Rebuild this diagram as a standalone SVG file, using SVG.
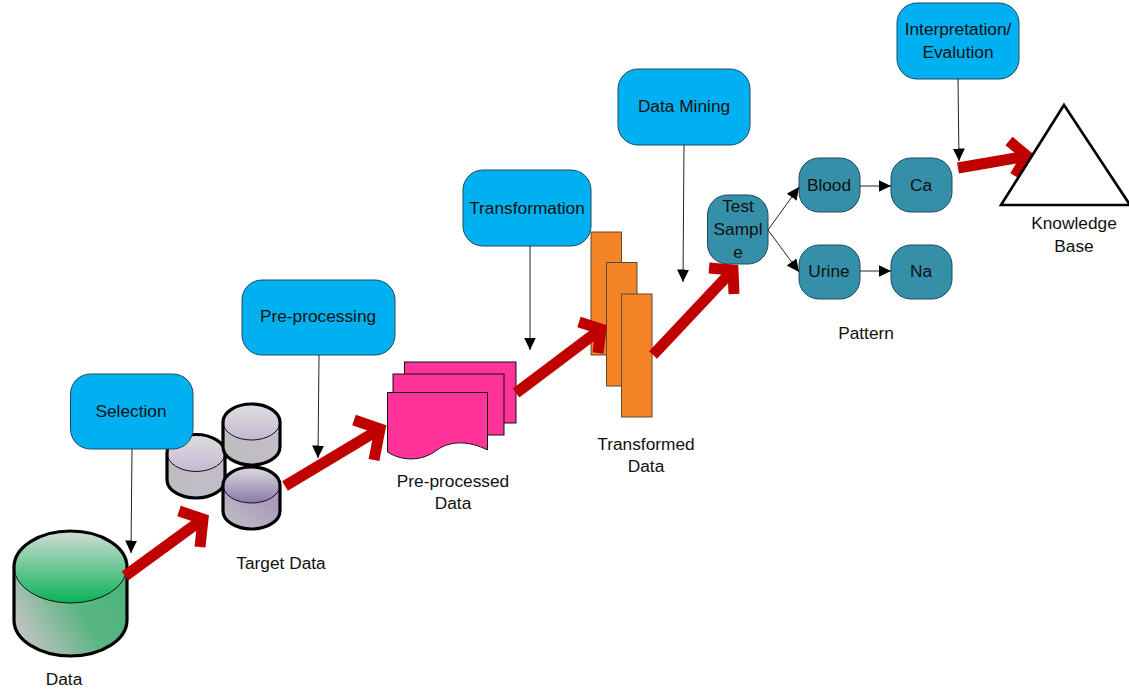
<svg xmlns="http://www.w3.org/2000/svg" width="1129" height="690" viewBox="0 0 1129 690">
<style>
text{font-family:"Liberation Sans",Arial,sans-serif;font-size:17.3px;fill:#111;text-anchor:middle}
.blue{fill:#00B0F0;stroke:#1d4a63;stroke-width:1}
.teal{fill:#368FA9;stroke:#1d4a5c;stroke-width:1}
.outline{fill:none;stroke:#000;stroke-width:3.2}
.rim{fill:none;stroke:#111;stroke-width:1}
.pink{fill:#FF3399;stroke:#111;stroke-width:1}
.orange{fill:#F58426;stroke:#5c4a3a;stroke-width:1}
.thin{fill:none;stroke:#222;stroke-width:1;marker-end:url(#tip)}
.fat{fill:none;stroke:#C00000;stroke-width:11;stroke-linejoin:miter;stroke-miterlimit:4}
</style>
<defs>
<marker id="tip" markerUnits="userSpaceOnUse" markerWidth="13" markerHeight="13" refX="12.5" refY="6" orient="auto"><path d="M0 0L12.5 6L0 12Z" fill="#000"/></marker>
<linearGradient id="gTop" x1="0" y1="0" x2="0" y2="1"><stop offset="0" stop-color="#d2dcd6"/><stop offset="1" stop-color="#0ab257"/></linearGradient>
<linearGradient id="gBody" gradientUnits="userSpaceOnUse" x1="25" y1="640" x2="115" y2="590"><stop offset="0" stop-color="#bfc3c0"/><stop offset=".6" stop-color="#5cb583"/><stop offset="1" stop-color="#4fb47c"/></linearGradient>
<linearGradient id="pTop" x1="0" y1="0" x2="0" y2="1"><stop offset="0" stop-color="#e0dde0"/><stop offset="1" stop-color="#c5b8d2"/></linearGradient>
<linearGradient id="pBody" x1="0" y1="0" x2="1" y2="0"><stop offset="0" stop-color="#bdbdbf"/><stop offset="1" stop-color="#c3bccb"/></linearGradient>
<linearGradient id="qTop" x1="0" y1="0" x2="0" y2="1"><stop offset="0" stop-color="#dedadf"/><stop offset="1" stop-color="#8b79aa"/></linearGradient>
<linearGradient id="qBody" x1="0" y1="1" x2="1" y2="0"><stop offset="0" stop-color="#c2c2c4"/><stop offset=".7" stop-color="#ab9bbd"/><stop offset="1" stop-color="#a797ba"/></linearGradient>
</defs>
<rect width="1129" height="690" fill="#fff"/>

<g id="data">
<path d="M14 567V620A56.500 36 0 0 0 127 620V567Z" fill="url(#gBody)"/>
<ellipse cx="70.500" cy="567" rx="56.500" ry="36" fill="url(#gTop)"/>
<ellipse cx="70.500" cy="567" rx="56.500" ry="36" class="rim"/>
<path d="M14 567A56.500 36 0 0 1 127 567V620A56.500 36 0 0 1 14 620Z" class="outline"/>
<text x="64" y="685">Data</text>
</g>
<g id="target-data">
<g id="cyl-a">
<path d="M167 453V480A29 18 0 0 0 225 480V453Z" fill="url(#pBody)"/>
<ellipse cx="196" cy="453" rx="29" ry="18.500" fill="url(#pTop)"/>
<ellipse cx="196" cy="453" rx="29" ry="18.500" class="rim"/>
<path d="M167 453A29 18.500 0 0 1 225 453V480A29 18 0 0 1 167 480Z" class="outline"/>
</g>
<g id="cyl-b">
<path d="M223 422V447A28.500 18 0 0 0 280 447V422Z" fill="url(#pBody)"/>
<ellipse cx="251.500" cy="422" rx="28.500" ry="18" fill="url(#pTop)"/>
<ellipse cx="251.500" cy="422" rx="28.500" ry="18" class="rim"/>
<path d="M223 422A28.500 18 0 0 1 280 422V447A28.500 18 0 0 1 223 447Z" class="outline"/>
</g>
<g id="cyl-c">
<path d="M223 485V511A28.500 18 0 0 0 280 511V485Z" fill="url(#qBody)"/>
<ellipse cx="251.500" cy="485" rx="28.500" ry="18" fill="url(#qTop)"/>
<ellipse cx="251.500" cy="485" rx="28.500" ry="18" class="rim"/>
<path d="M223 485A28.500 18 0 0 1 280 485V511A28.500 18 0 0 1 223 511Z" class="outline"/>
</g>
<text x="281" y="569">Target Data</text>
</g>
<g id="selection"><rect class="blue" x="70.500" y="374" width="122.500" height="75" rx="20"/><text x="131" y="417">Selection</text></g>
<g id="pre-processing"><rect class="blue" x="242" y="280" width="153" height="75" rx="20"/><text x="318" y="322">Pre-processing</text></g>
<g id="transformation"><rect class="blue" x="463" y="170" width="128" height="76" rx="20"/><text x="527" y="214">Transformation</text></g>
<g id="data-mining"><rect class="blue" x="618" y="69" width="132" height="76" rx="20"/><text x="684" y="112">Data Mining</text></g>
<g id="interpretation"><rect class="blue" x="897" y="3" width="122" height="76" rx="20"/><text x="958" y="35">Interpretation/</text><text x="958" y="58">Evalution</text></g>

<g id="pre-processed-data">
<rect class="pink" x="404.500" y="362" width="111.500" height="61"/>
<rect class="pink" x="393" y="374" width="111" height="61"/>
<path class="pink" d="M387.500 392.500H487.500V450C470 441 451 440 437 450C423 461 403 462 387.500 452Z"/>
<text x="453" y="487">Pre-processed</text><text x="453" y="509">Data</text>
</g>
<g id="transformed-data">
<rect class="orange" x="591" y="232" width="30.500" height="123"/>
<rect class="orange" x="606.500" y="262.500" width="30.500" height="123.500"/>
<rect class="orange" x="621.500" y="294" width="30.500" height="123"/>
<text x="646" y="450">Transformed</text><text x="646" y="472">Data</text>
</g>
<g id="test-sample"><rect class="teal" x="707.500" y="195" width="60.500" height="69" rx="20"/><text x="738" y="212">Test</text><text x="738" y="235">Sampl</text><text x="738" y="258">e</text></g>
<g id="blood"><rect class="teal" x="799" y="158" width="61" height="54" rx="20"/><text x="829" y="191">Blood</text></g>
<g id="ca"><rect class="teal" x="891" y="158" width="61" height="54" rx="20"/><text x="921" y="191">Ca</text></g>
<g id="urine"><rect class="teal" x="799" y="245" width="61" height="54" rx="20"/><text x="829" y="277">Urine</text></g>
<g id="na"><rect class="teal" x="891" y="245" width="61" height="54" rx="20"/><text x="921" y="277">Na</text></g>
<text id="pattern" x="866" y="339">Pattern</text>

<g id="connectors">
<path class="thin" d="M132 449L131 553"/>
<path class="thin" d="M319 355L318 458"/>
<path class="thin" d="M530 246V350"/>
<path class="thin" d="M684 145L683 282"/>
<path class="thin" d="M958 79L959 161"/>
<path class="thin" d="M768 230L799 187"/>
<path class="thin" d="M768 230L799 272"/>
<path class="thin" d="M860 186H891"/>
<path class="thin" d="M860 271H891"/>
<path class="fat" d="M125 576L203 519"/><path class="fat" d="M179 511L203 519L200 547"/>
<path class="fat" d="M285 486L380 429"/><path class="fat" d="M354 420L380 429L374 460"/>
<path class="fat" d="M516 393L601 329"/><path class="fat" d="M579 322L601 329L598 353"/>
<path class="fat" d="M653 355L733 270"/><path class="fat" d="M709 268L733 270L734 294"/>
<path class="fat" d="M958 168L1027 156"/><path class="fat" d="M1009 141L1027 156L1015 176"/>
</g>
<g id="knowledge-base">
<path d="M1064 105L1130 205H1001Z" fill="#fff" stroke="#000" stroke-width="2.600"/>
<text x="1074" y="229">Knowledge</text><text x="1074" y="252">Base</text>
</g>
</svg>
